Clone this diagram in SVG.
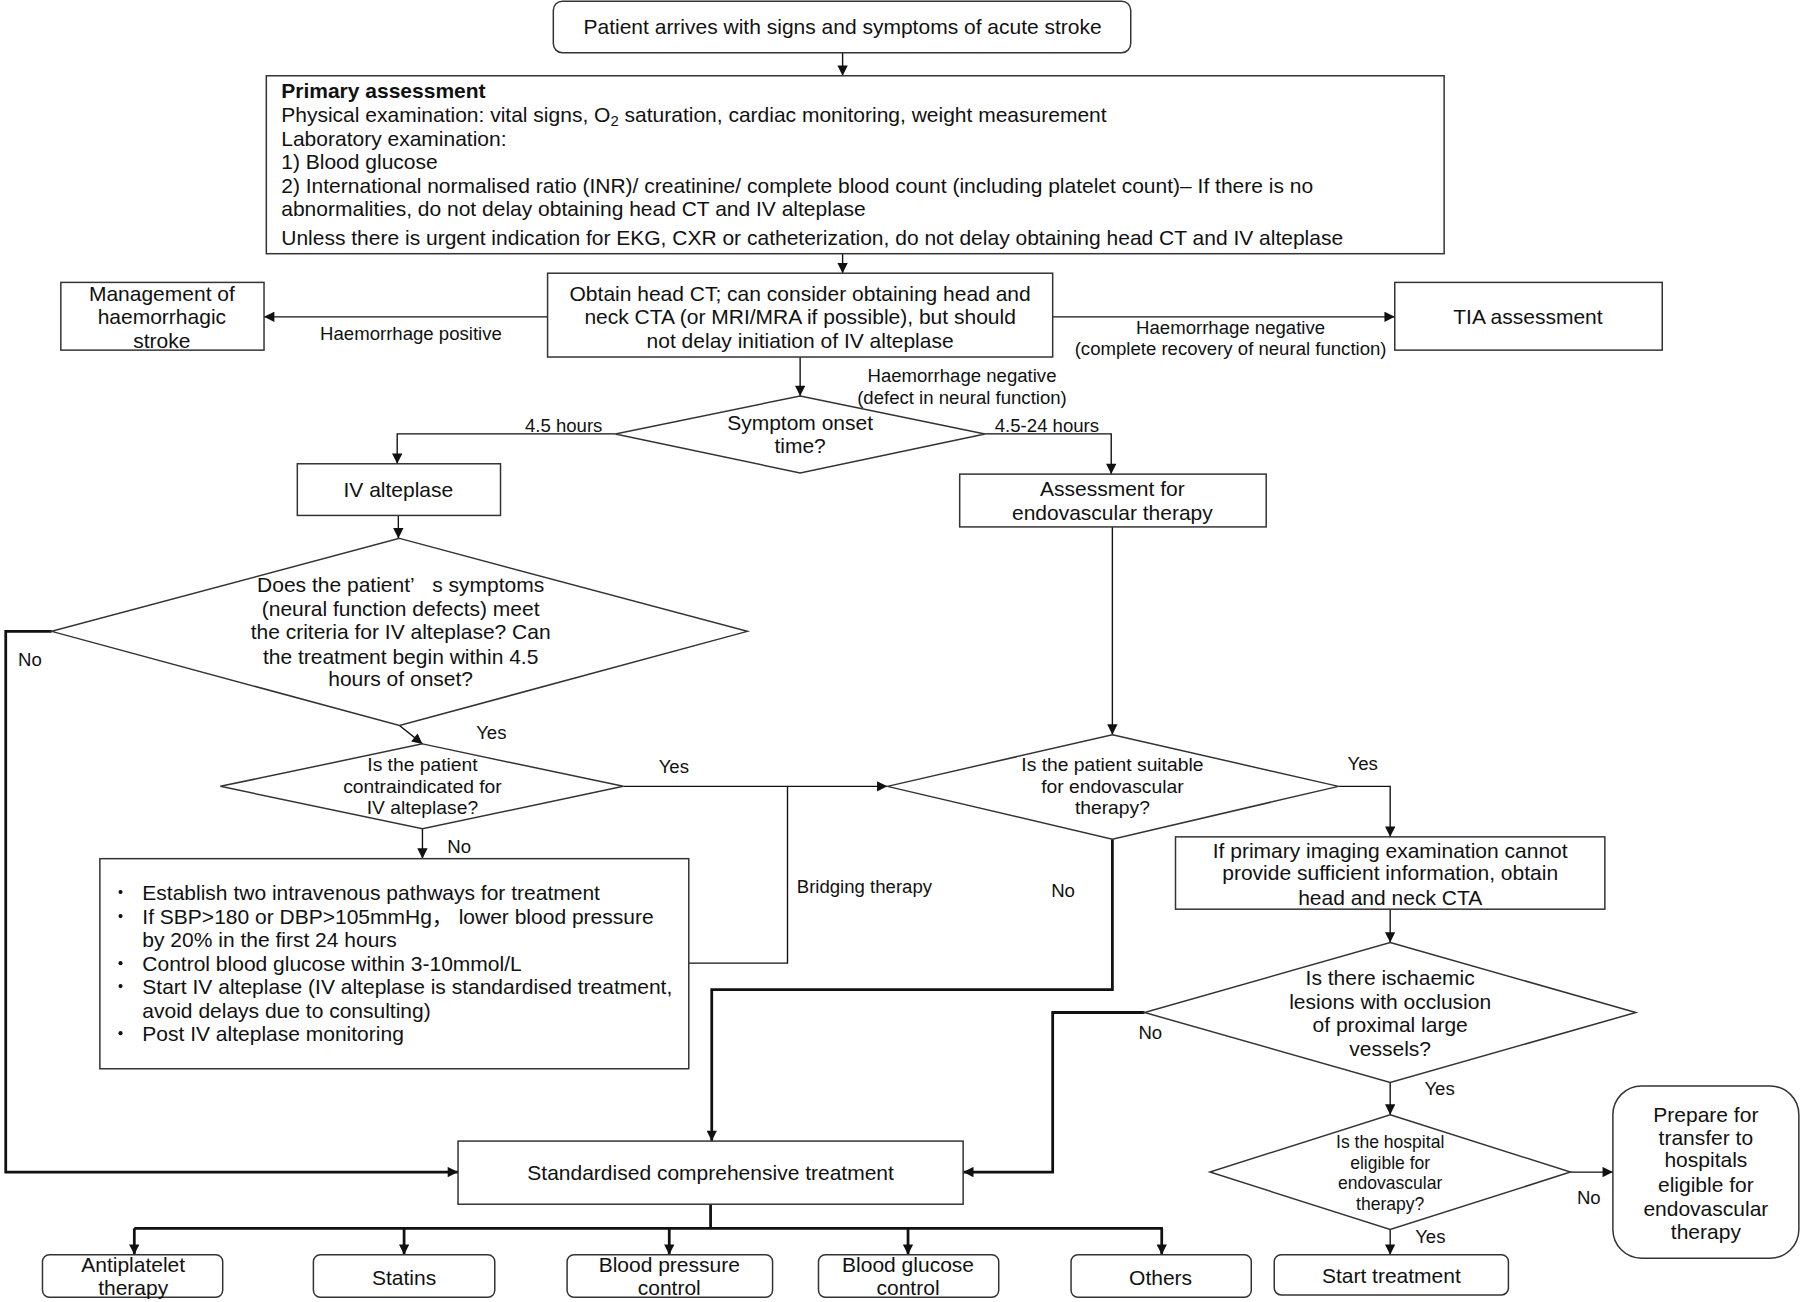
<svg xmlns="http://www.w3.org/2000/svg" width="1800" height="1302" viewBox="0 0 1800 1302">
<defs>
<style>
.b{fill:#fff;stroke:#333;stroke-width:1.3}
.t{font-family:"Liberation Sans",Arial,"Noto Sans CJK SC",sans-serif;font-size:18.3px;fill:#111}
.c{text-anchor:middle}
.s{font-size:16.2px}
.d{font-size:16.8px}
.h{font-size:15.3px}
.ln{fill:none;stroke:#111;stroke-width:1.2}
.th{stroke-width:2.4}
</style>
<marker id="ah" viewBox="0 0 10 10" refX="10" refY="5" markerWidth="11" markerHeight="9" orient="auto" markerUnits="userSpaceOnUse"><path d="M0,0 L10,5 L0,10 z" fill="#111"/></marker>
</defs>
<rect width="1800" height="1302" fill="#fff"/>
<g transform="scale(1.14796)">
<g id="connectors">
<path class="ln" d="M734,46 V66" marker-end="url(#ah)"/>
<path class="ln" d="M734,221 V238" marker-end="url(#ah)"/>
<path class="ln" d="M477,276 H230" marker-end="url(#ah)"/>
<path class="ln" d="M917,276 H1215" marker-end="url(#ah)"/>
<path class="ln" d="M697,311 V345" marker-end="url(#ah)"/>
<path class="ln" d="M536,378 H346 V404" marker-end="url(#ah)"/>
<path class="ln" d="M858,378 H968 V413" marker-end="url(#ah)"/>
<path class="ln" d="M347,449 V469" marker-end="url(#ah)"/>
<path class="ln th" d="M45,550 H5 V1021 H399" marker-end="url(#ah)"/>
<path class="ln" d="M348,632 L368,648" marker-end="url(#ah)"/>
<path class="ln" d="M543,685 H773" marker-end="url(#ah)"/>
<path class="ln" d="M368,722 V748" marker-end="url(#ah)"/>
<path class="ln" d="M600,839 H686 V685"/>
<path class="ln" d="M969,459 V640" marker-end="url(#ah)"/>
<path class="ln" d="M1166,685 H1211 V729" marker-end="url(#ah)"/>
<path class="ln th" d="M969,731 V862 H620 V994" marker-end="url(#ah)"/>
<path class="ln" d="M1211,792 V821" marker-end="url(#ah)"/>
<path class="ln th" d="M997,882 H917 V1021 H839" marker-end="url(#ah)"/>
<path class="ln" d="M1211,943 V971" marker-end="url(#ah)"/>
<path class="ln" d="M1368,1021 H1405" marker-end="url(#ah)"/>
<path class="ln" d="M1211,1071 V1093" marker-end="url(#ah)"/>
<path class="ln th" d="M619,1049 V1070 M117,1070 H1013"/>
<path class="ln th" d="M117,1070 V1093" marker-end="url(#ah)"/>
<path class="ln th" d="M352,1070 V1093" marker-end="url(#ah)"/>
<path class="ln th" d="M583,1070 V1093" marker-end="url(#ah)"/>
<path class="ln th" d="M791,1070 V1093" marker-end="url(#ah)"/>
<path class="ln th" d="M1012,1070 V1093" marker-end="url(#ah)"/>
<text class="t s c" x="358" y="296">Haemorrhage positive</text>
<text class="t s c" x="1072" y="291">Haemorrhage negative</text>
<text class="t s c" x="1072" y="309">(complete recovery of neural function)</text>
<text class="t s c" x="838" y="333">Haemorrhage negative</text>
<text class="t s c" x="838" y="352">(defect in neural function)</text>
<text class="t s c" x="491" y="376">4.5 hours</text>
<text class="t s c" x="912" y="376">4.5-24 hours</text>
<text class="t s c" x="26" y="580">No</text>
<text class="t s c" x="428" y="644">Yes</text>
<text class="t s c" x="587" y="673">Yes</text>
<text class="t s c" x="400" y="743">No</text>
<text class="t s c" x="753" y="778">Bridging therapy</text>
<text class="t s c" x="926" y="781">No</text>
<text class="t s c" x="1187" y="671">Yes</text>
<text class="t s c" x="1002" y="905">No</text>
<text class="t s c" x="1254" y="954">Yes</text>
<text class="t s c" x="1384" y="1049">No</text>
<text class="t s c" x="1246" y="1083">Yes</text>
</g>
<g id="n-arrive"><rect class="b" x="482" y="1" width="503" height="45" rx="8"/><text class="t c" x="734" y="30">Patient arrives with signs and symptoms of acute stroke</text></g>
<g id="n-primary"><rect class="b" x="232" y="66" width="1026" height="155"/>
<text class="t" x="245" y="85" font-weight="bold">Primary assessment</text>
<text class="t" x="245" y="106">Physical examination: vital signs, O<tspan font-size="13" dy="4">2</tspan><tspan dy="-4"> saturation, cardiac monitoring, weight measurement</tspan></text>
<text class="t" x="245" y="127">Laboratory examination:</text>
<text class="t" x="245" y="147">1) Blood glucose</text>
<text class="t" x="245" y="168">2) International normalised ratio (INR)/ creatinine/ complete blood count (including platelet count)– If there is no</text>
<text class="t" x="245" y="188">abnormalities, do not delay obtaining head CT and IV alteplase</text>
<text class="t" x="245" y="213">Unless there is urgent indication for EKG, CXR or catheterization, do not delay obtaining head CT and IV alteplase</text>
</g>
<g id="n-ct"><rect class="b" x="477" y="238" width="440" height="73"/>
<text class="t c" x="697" y="262">Obtain head CT; can consider obtaining head and</text>
<text class="t c" x="697" y="282">neck CTA (or MRI/MRA if possible), but should</text>
<text class="t c" x="697" y="303">not delay initiation of IV alteplase</text></g>
<g id="n-haem"><rect class="b" x="53" y="246" width="177" height="59"/>
<text class="t c" x="141" y="262">Management of</text>
<text class="t c" x="141" y="282">haemorrhagic</text>
<text class="t c" x="141" y="303">stroke</text></g>
<g id="n-tia"><rect class="b" x="1215" y="246" width="233" height="59"/><text class="t c" x="1331" y="282">TIA assessment</text></g>
<g id="n-onset"><polygon class="b" points="697,345 858,378 697,412 536,378"/>
<text class="t c" x="697" y="375">Symptom onset</text>
<text class="t c" x="697" y="395">time?</text></g>
<g id="n-iv"><rect class="b" x="259" y="404" width="177" height="45"/><text class="t c" x="347" y="433">IV alteplase</text></g>
<g id="n-criteria"><polygon class="b" points="348,469 651,550 348,632 45,550"/>
<text class="t c" x="349" y="516">Does the patient’&#160;&#160;&#160;s symptoms</text>
<text class="t c" x="349" y="537">(neural function defects) meet</text>
<text class="t c" x="349" y="557">the criteria for IV alteplase? Can</text>
<text class="t c" x="349" y="578">the treatment begin within 4.5</text>
<text class="t c" x="349" y="598">hours of onset?</text></g>
<g id="n-contra"><polygon class="b" points="368,648 543,685 368,722 192,685"/>
<text class="t d c" x="368" y="672">Is the patient</text>
<text class="t d c" x="368" y="691">contraindicated for</text>
<text class="t d c" x="368" y="709">IV alteplase?</text></g>
<g id="n-bullets"><rect class="b" x="87" y="748" width="513" height="183"/>
<g fill="#111"><circle cx="105" cy="777" r="1.8"/><circle cx="105" cy="798" r="1.8"/><circle cx="105" cy="839" r="1.8"/><circle cx="105" cy="859" r="1.8"/><circle cx="105" cy="900" r="1.8"/></g>
<text class="t" x="124" y="784">Establish two intravenous pathways for treatment</text>
<text class="t" x="124" y="805">If SBP&gt;180 or DBP&gt;105mmHg， lower blood pressure</text>
<text class="t" x="124" y="825">by 20% in the first 24 hours</text>
<text class="t" x="124" y="846">Control blood glucose within 3-10mmol/L</text>
<text class="t" x="124" y="866">Start IV alteplase (IV alteplase is standardised treatment,</text>
<text class="t" x="124" y="887">avoid delays due to consulting)</text>
<text class="t" x="124" y="907">Post IV alteplase monitoring</text></g>
<g id="n-assess"><rect class="b" x="836" y="413" width="267" height="46"/>
<text class="t c" x="969" y="432">Assessment for</text>
<text class="t c" x="969" y="453">endovascular therapy</text></g>
<g id="n-suitable"><polygon class="b" points="969,640 1166,685 969,731 773,685"/>
<text class="t d c" x="969" y="672">Is the patient suitable</text>
<text class="t d c" x="969" y="691">for endovascular</text>
<text class="t d c" x="969" y="709">therapy?</text></g>
<g id="n-cta"><rect class="b" x="1024" y="729" width="374" height="63"/>
<text class="t c" x="1211" y="747">If primary imaging examination cannot</text>
<text class="t c" x="1211" y="767">provide sufficient information, obtain</text>
<text class="t c" x="1211" y="788">head and neck CTA</text></g>
<g id="n-ischaemic"><polygon class="b" points="1211,821 1425,882 1211,943 997,882"/>
<text class="t c" x="1211" y="858">Is there ischaemic</text>
<text class="t c" x="1211" y="879">lesions with occlusion</text>
<text class="t c" x="1211" y="899">of proximal large</text>
<text class="t c" x="1211" y="920">vessels?</text></g>
<g id="n-hospital"><polygon class="b" points="1211,971 1368,1021 1211,1071 1054,1021"/>
<text class="t h c" x="1211" y="1000">Is the hospital</text>
<text class="t h c" x="1211" y="1018">eligible for</text>
<text class="t h c" x="1211" y="1036">endovascular</text>
<text class="t h c" x="1211" y="1054">therapy?</text></g>
<g id="n-transfer"><rect class="b" x="1405" y="946" width="162" height="150" rx="25"/>
<text class="t c" x="1486" y="977">Prepare for</text>
<text class="t c" x="1486" y="997">transfer to</text>
<text class="t c" x="1486" y="1017">hospitals</text>
<text class="t c" x="1486" y="1038">eligible for</text>
<text class="t c" x="1486" y="1059">endovascular</text>
<text class="t c" x="1486" y="1079">therapy</text></g>
<g id="n-start"><rect class="b" x="1110" y="1093" width="204" height="35" rx="6"/><text class="t c" x="1212" y="1118">Start treatment</text></g>
<g id="n-standard"><rect class="b" x="399" y="994" width="440" height="55"/><text class="t c" x="619" y="1028">Standardised comprehensive treatment</text></g>
<g id="n-antiplatelet"><rect class="b" x="37" y="1093" width="157" height="37" rx="6"/><text class="t c" x="116" y="1108">Antiplatelet</text><text class="t c" x="116" y="1128">therapy</text></g>
<g id="n-statins"><rect class="b" x="273" y="1093" width="158" height="37" rx="6"/><text class="t c" x="352" y="1119">Statins</text></g>
<g id="n-bp"><rect class="b" x="494" y="1093" width="179" height="37" rx="6"/><text class="t c" x="583" y="1108">Blood pressure</text><text class="t c" x="583" y="1128">control</text></g>
<g id="n-bg"><rect class="b" x="713" y="1093" width="157" height="37" rx="6"/><text class="t c" x="791" y="1108">Blood glucose</text><text class="t c" x="791" y="1128">control</text></g>
<g id="n-others"><rect class="b" x="933" y="1093" width="157" height="37" rx="6"/><text class="t c" x="1011" y="1119">Others</text></g>
</g>
</svg>
